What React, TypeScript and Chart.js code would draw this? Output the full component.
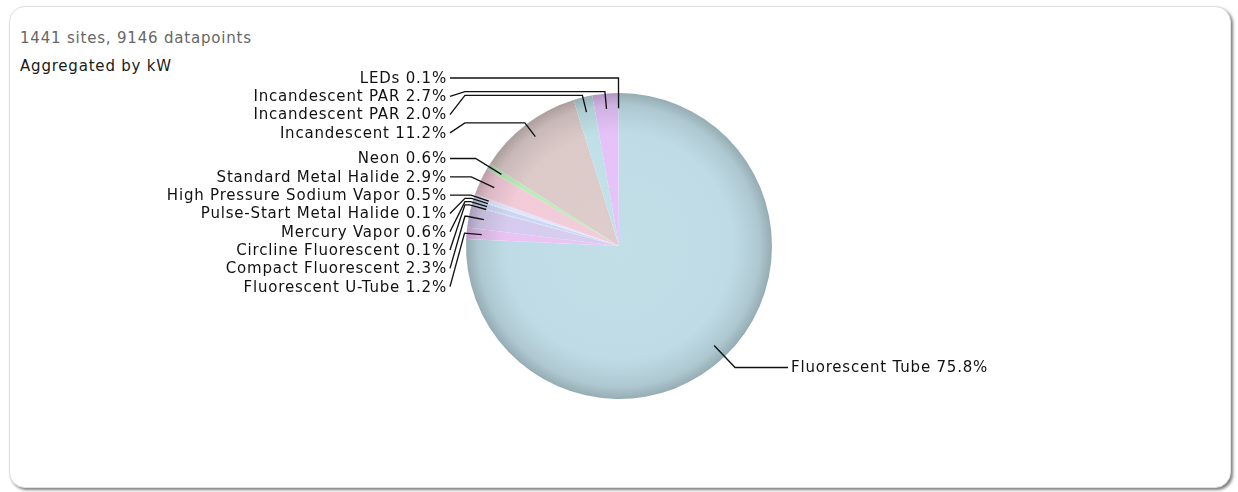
import React, { useEffect, useRef } from "react";
import { Chart, registerables } from "chart.js";

Chart.register(...registerables);

const categories = [
  "Fluorescent Tube",
  "Fluorescent U-Tube",
  "Compact Fluorescent",
  "Circline Fluorescent",
  "Mercury Vapor",
  "Pulse-Start Metal Halide",
  "High Pressure Sodium Vapor",
  "Standard Metal Halide",
  "Neon",
  "Incandescent",
  "Incandescent PAR",
  "Incandescent PAR",
  "LEDs",
];
const sharePercent = [75.8, 1.2, 2.3, 0.1, 0.6, 0.1, 0.5, 2.9, 0.6, 11.2, 2.0, 2.7, 0.1];
const sliceColors = [
  "#bfdce6",
  "#e8c4f2",
  "#d6cbee",
  "#c9e4e2",
  "#cbd6f5",
  "#d8e6f8",
  "#e2e4fa",
  "#f2cad8",
  "#b8ecb8",
  "#dccac9",
  "#bfe0e6",
  "#e4c2f8",
  "#cfd8f5",
];
const subtitleLines = ["1441 sites, 9146 datapoints", "Aggregated by kW"];

function adjust(hex: string, f: number): string {
  const n = parseInt(hex.slice(1), 16);
  let r = (n >> 16) & 255, g = (n >> 8) & 255, b = n & 255;
  if (f < 0) {
    r = Math.round(r * (1 + f)); g = Math.round(g * (1 + f)); b = Math.round(b * (1 + f));
  } else {
    r = Math.round(r + (255 - r) * f); g = Math.round(g + (255 - g) * f); b = Math.round(b + (255 - b) * f);
  }
  return `rgb(${r},${g},${b})`;
}

const FONT = "15px 'DejaVu Sans'";
const LETTER_SPACING = "0.8px";

const labelPlugin = {
  id: "pieLabels",
  afterDatasetsDraw(chart: any) {
    const meta = chart.getDatasetMeta(0);
    const arcs = meta.data as any[];
    if (!arcs.length) return;
    const ctx = chart.ctx as CanvasRenderingContext2D;
    const cx = arcs[0].x, cy = arcs[0].y, r = arcs[0].outerRadius;
    const RL = r * 1.098;
    const spacing = 18.3;
    const items = arcs.map((arc, i) => {
      const mid = (arc.startAngle + arc.endAngle) / 2;
      const ux = Math.cos(mid), uy = Math.sin(mid);
      return { i, ux, uy, side: ux < 0 ? -1 : 1, nat: cy + RL * uy, y: 0 };
    });
    for (const side of [-1, 1]) {
      const grp = items.filter((it) => it.side === side).sort((a, b) => a.nat - b.nat);
      let prev = -Infinity;
      for (const it of grp) {
        it.y = Math.max(it.nat, prev + spacing);
        prev = it.y;
      }
    }
    ctx.save();
    ctx.strokeStyle = "#111";
    ctx.lineWidth = 1.35;
    ctx.font = FONT;
    (ctx as any).letterSpacing = LETTER_SPACING;
    ctx.fillStyle = "#111";
    ctx.textBaseline = "middle";
    for (const it of items) {
      const s = it.side;
      const lx = cx + 0.9 * r * it.ux, ly = cy + 0.9 * r * it.uy;
      const tx = cx + s * (r + 16), ty = it.y;
      ctx.beginPath();
      ctx.moveTo(lx, ly);
      const rho = Math.abs(it.uy) > 1e-6 ? (ty - cy) / it.uy : -1;
      const rx = cx + rho * it.ux;
      const rayOk = rho >= r && (s < 0 ? rx > tx + 5 : rx < tx - 5);
      if (rayOk) {
        ctx.lineTo(rx, ty);
      } else {
        const ex = cx + 1.013 * r * it.ux, ey = cy + 1.013 * r * it.uy;
        ctx.lineTo(ex, ey);
        const ax = s < 0 ? Math.min(ex, cx - 1.007 * r) : Math.max(ex, cx + 1.007 * r);
        ctx.lineTo(ax, ey);
      }
      ctx.lineTo(tx, ty);
      ctx.stroke();
      ctx.textAlign = s < 0 ? "right" : "left";
      const text = `${categories[it.i]} ${sharePercent[it.i].toFixed(1)}%`;
      ctx.fillText(text, tx + s * 3, ty + 1);
    }
    ctx.restore();
  },
};

export default function App() {
  const canvasRef = useRef<HTMLCanvasElement | null>(null);

  useEffect(() => {
    if (!canvasRef.current) return;
    const chart = new Chart(canvasRef.current, {
      type: "pie",
      data: {
        labels: categories,
        datasets: [
          {
            data: sharePercent,
            borderWidth: 0,
            hoverOffset: 0,
            backgroundColor: (c: any) => {
              const base = sliceColors[c.dataIndex % sliceColors.length];
              const a = c.chart.chartArea;
              if (!a) return base;
              const cx = (a.left + a.right) / 2, cy = (a.top + a.bottom) / 2;
              const rr = Math.min(a.right - a.left, a.bottom - a.top) / 2;
              const g = c.chart.ctx.createRadialGradient(cx, cy, 0, cx, cy, rr);
              g.addColorStop(0, adjust(base, 0.05));
              g.addColorStop(0.74, base);
              g.addColorStop(0.92, adjust(base, -0.09));
              g.addColorStop(1, adjust(base, -0.22));
              return g;
            },
          } as any,
        ],
      },
      options: {
        responsive: false,
        animation: false,
        layout: { padding: { top: 93, bottom: 93, left: 300, right: 300 } },
        plugins: {
          legend: { display: false },
          tooltip: { enabled: false },
          title: { display: false },
        },
      },
      plugins: [labelPlugin],
    });
    return () => chart.destroy();
  }, []);

  const textStyle: React.CSSProperties = {
    position: "absolute",
    left: 20,
    fontFamily: "'DejaVu Sans'",
    fontSize: 15,
    letterSpacing: LETTER_SPACING,
    lineHeight: "18px",
    whiteSpace: "nowrap",
  };

  return (
    <div style={{ position: "fixed", left: 0, top: 0, width: 1238, height: 492, background: "#fff", overflow: "hidden" }}>
      <div
        style={{
          position: "absolute",
          left: 9,
          top: 6,
          width: 1222,
          height: 482,
          boxSizing: "border-box",
          border: "1px solid #e0e0e0",
          borderRadius: 16,
          background: "#fff",
          boxShadow: "2px 2px 3px rgba(0,0,0,0.5)",
        }}
      />
      <div style={{ ...textStyle, top: 29, color: "#666" }}>{subtitleLines[0]}</div>
      <div style={{ ...textStyle, top: 57, color: "#1a1a1a" }}>{subtitleLines[1]}</div>
      <canvas
        ref={canvasRef}
        width={1238}
        height={492}
        style={{ position: "absolute", left: 0, top: 0, width: 1238, height: 492 }}
      />
    </div>
  );
}
